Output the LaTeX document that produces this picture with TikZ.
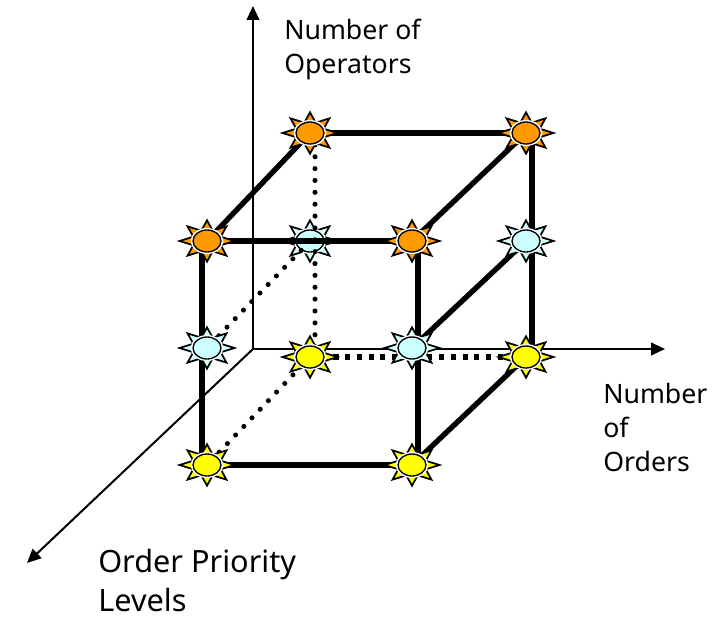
\documentclass[tikz,border=0pt]{standalone}
\usepackage{fontspec}
\setmainfont{Noto Sans}
\usetikzlibrary{positioning,shapes.geometric,arrows.meta}
\pgfdeclarelayer{hidden}
\pgfdeclarelayer{links}
\pgfsetlayers{hidden,links,main}
\definecolor{sunorange}{RGB}{255,153,0}
\definecolor{suncyan}{RGB}{204,255,255}
\definecolor{sunyellow}{RGB}{255,255,0}
\tikzset{
  sunray/.style={star, star points=8, star point ratio=1.85, draw, line width=1.3pt, miter limit=6, fill=#1, minimum size=31pt, inner sep=0pt, xscale=1.33},
  sun/.style={ellipse, draw, line width=1pt, fill=#1, minimum width=21pt, minimum height=16.5pt, inner sep=0pt},
  sungap/.style={ellipse, fill=white, minimum width=24.5pt, minimum height=19.5pt, inner sep=0pt},
  axis/.style={-{Triangle[length=10.5pt,width=9.5pt]}, line width=1.5pt},
  edge/.style={line width=4pt},
  hiddenedge/.style={line width=3.8pt, line cap=round, dash pattern=on 0pt off 8.9pt},
  squareedge/.style={line width=3.8pt, dash pattern=on 3.8pt off 5pt},
  axislabel/.style={align=left, anchor=north west, inner sep=0pt, font=\fontsize{20}{25.5}\selectfont}
}
\newcommand{\sunnode}[3]{%
  \node[sunray=#3] at #2 {};
  \node[sungap] at #2 {};
  \node[sun=#3] (#1) at #2 {};
}
\begin{document}
\begin{tikzpicture}[x=0.75pt, y=-0.75pt]
\useasboundingbox (0,0) rectangle (717,617);
% corners of the cube
\begin{pgfonlayer}{hidden}
\sunnode{midbackleft}{(310,241)}{suncyan}
\end{pgfonlayer}
\sunnode{topbackleft}{(310,133)}{sunorange}
\sunnode{topbackright}{(526,133)}{sunorange}
\sunnode{topfrontleft}{(207,241)}{sunorange}
\sunnode{topfrontright}{(412,241)}{sunorange}
\sunnode{midbackright}{(526,241)}{suncyan}
\sunnode{midfrontleft}{(207,348)}{suncyan}
\sunnode{midfrontright}{(412,348)}{suncyan}
\sunnode{lowbackleft}{(310,357)}{sunyellow}
\sunnode{lowbackright}{(526,357)}{sunyellow}
\sunnode{lowfrontleft}{(207,465)}{sunyellow}
\sunnode{lowfrontright}{(412,465)}{sunyellow}
% axes
\coordinate (origin) at (253,349);
\coordinate (opend) at (253,6);
\coordinate (ordend) at (665,349);
\coordinate (prioend) at (27,563);
\begin{pgfonlayer}{links}
\draw[axis] (origin) -- (opend);
\draw[axis] (origin) -- (ordend);
\draw[axis] (origin) -- (prioend);
% solid edges
\draw[edge] (topbackleft) -- (topbackright);
\draw[edge] (topfrontleft.center) -- (topfrontright.center);
\draw[edge] (lowfrontleft.center) -- (lowfrontright.center);
\draw[edge] (topbackleft) -- (topfrontleft);
\draw[edge] (topbackright) -- (topfrontright);
\draw[edge] (midbackright) -- (midfrontright);
\draw[edge] (lowbackright) -- (lowfrontright);
\draw[edge] ([xshift=-3.75pt]topfrontleft.center) -- ([xshift=-3.75pt]lowfrontleft.center);
\draw[edge] ([xshift=4.5pt]topfrontright.center) -- ([xshift=4.5pt]lowfrontright.center);
\draw[edge] ([xshift=4.5pt]topbackright.center) -- ([xshift=4.5pt]lowbackright.center);
% hidden edges
\draw[hiddenedge] ([xshift=3.75pt]topbackleft.center) -- ([xshift=3.75pt]lowbackleft.center);
\draw[hiddenedge] (midbackleft) -- (midfrontleft);
\draw[hiddenedge] (lowbackleft) -- (lowfrontleft);
\draw[squareedge] (lowbackleft.center) -- (lowbackright.center);
\end{pgfonlayer}
% labels
\node[axislabel] (oplabel) at (284,19) {Number of\\Operators};
\node[axislabel] (ordlabel) at (603,383) {Number\\of\\Orders};
\node[axislabel, font=\fontsize{23}{29.5}\selectfont] (priolabel) at (98,549) {Order Priority\\Levels};
\end{tikzpicture}
\end{document}
